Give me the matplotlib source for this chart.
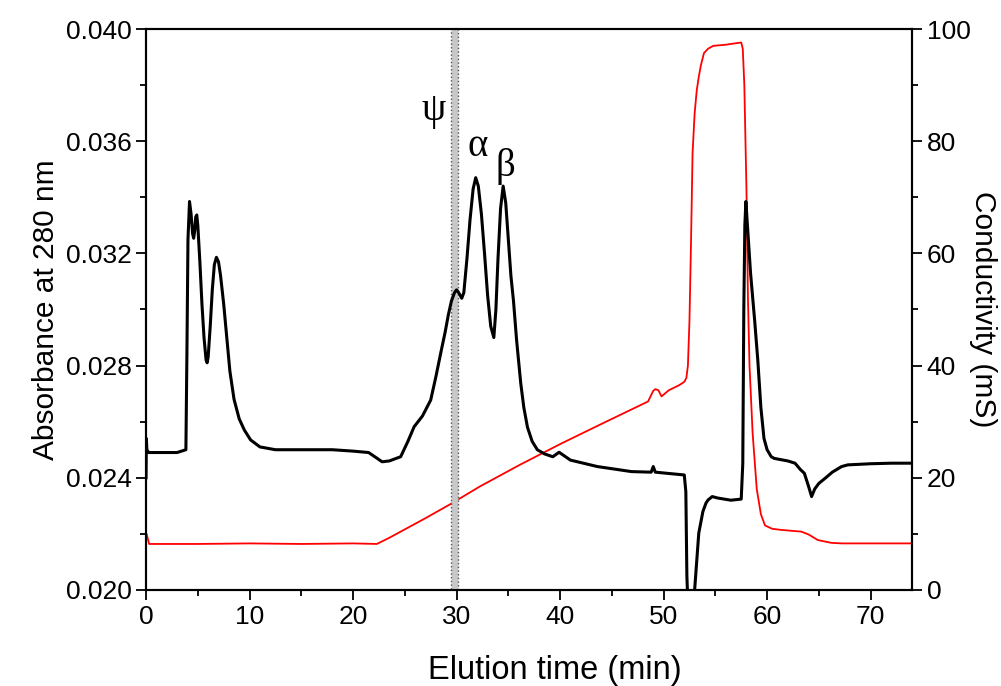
import numpy as np
import matplotlib
matplotlib.use("Agg")
import matplotlib.pyplot as plt
from matplotlib.ticker import MultipleLocator

plt.rcParams['font.family'] = ['Liberation Sans', 'DejaVu Sans']

# absorbance at 280 nm (left axis)
abs_time = [0.0, 0.03, 0.08, 0.25, 1.5, 3.0, 3.85, 3.95, 4.05, 4.2, 4.35, 4.5, 4.6, 4.7, 4.8, 4.9,
            5.0, 5.2, 5.4, 5.6, 5.8, 5.9, 6.0, 6.2, 6.4, 6.6, 6.8, 7.0, 7.2, 7.5, 7.8, 8.1,
            8.5, 9.0, 9.5, 10.1, 11.0, 12.5, 15.0, 18.0, 20.0, 21.5, 22.3, 22.8, 23.5, 24.6,
            25.3, 25.9, 26.7, 27.5, 28.0, 28.5, 28.9, 29.2, 29.5, 29.8, 30.0, 30.2, 30.5, 30.7,
            31.0, 31.3, 31.6, 31.85, 32.1, 32.4, 32.7, 33.0, 33.3, 33.6, 33.8, 34.0, 34.25,
            34.5, 34.75, 35.0, 35.25, 35.5, 35.8, 36.2, 36.5, 36.85, 37.3, 37.8, 38.5, 39.3,
            39.9, 41.0, 43.6, 46.9, 48.8, 49.0, 49.2, 52.0, 52.15, 52.25, 52.35, 52.9, 53.1,
            53.4, 53.8, 54.1, 54.3, 54.7, 55.2, 56.5, 57.5, 57.65, 57.75, 57.85, 57.95, 58.1,
            58.4, 58.8, 59.1, 59.4, 59.7, 60.0, 60.4, 60.7, 62.0, 62.7, 63.2, 63.6, 64.0, 64.3,
            64.6, 65.0, 65.6, 66.3, 67.2, 67.8, 70.0, 72.0, 74.0]
absorbance = [0.0240, 0.0254, 0.0250, 0.0249, 0.0249, 0.0249, 0.0250, 0.0285, 0.0325, 0.03385,
              0.0334, 0.0327, 0.03254, 0.0328, 0.0333, 0.03337, 0.0330, 0.0317, 0.0302, 0.0290,
              0.0282, 0.0281, 0.0283, 0.0294, 0.0307, 0.0316, 0.03186, 0.0317, 0.0312, 0.0302,
              0.0290, 0.0278, 0.0268, 0.0261, 0.0257, 0.02535, 0.0251, 0.0250, 0.0250, 0.0250,
              0.02495, 0.0249, 0.0247, 0.02457, 0.0246, 0.02475, 0.0253, 0.02582, 0.0262, 0.02677,
              0.0276, 0.0285, 0.0292, 0.0298, 0.0303, 0.0306, 0.0307, 0.0306, 0.0304, 0.0306,
              0.0318, 0.0332, 0.0343, 0.0347, 0.0344, 0.0334, 0.0320, 0.0305, 0.0294, 0.0290,
              0.0300, 0.0318, 0.0336, 0.0344, 0.0338, 0.0325, 0.0312, 0.0303, 0.0289, 0.02737,
              0.0265, 0.0258, 0.0253, 0.0250, 0.02485, 0.02475, 0.02491, 0.02463, 0.0244, 0.02422,
              0.0242, 0.0244, 0.0242, 0.0241, 0.0235, 0.0205, 0.0195, 0.0195, 0.0205, 0.02203,
              0.0228, 0.0231, 0.02321, 0.02333, 0.02328, 0.0232, 0.02324, 0.0245, 0.0300, 0.0330,
              0.03385, 0.0330, 0.0313, 0.0296, 0.0282, 0.0265, 0.0254, 0.0250, 0.02475, 0.02469,
              0.0246, 0.02452, 0.0243, 0.02416, 0.0237, 0.02333, 0.0236, 0.0238, 0.02398, 0.0242,
              0.0244, 0.02446, 0.0245, 0.02452, 0.02452]

# conductivity (right axis)
cond_time = [0.0, 0.05, 0.3, 5.0, 10.0, 15.0, 20.0, 22.3, 23.5, 25.0, 27.0, 29.4, 32.3, 36.0, 40.0,
             44.0, 48.5, 49.0, 49.2, 49.5, 49.8, 50.5, 51.5, 52.0, 52.2, 52.35, 52.5, 52.65, 52.8,
             53.0, 53.2, 53.4, 53.6, 53.9, 54.3, 54.8, 56.0, 57.5, 57.65, 57.8, 58.0, 58.15,
             58.3, 58.6, 59.0, 59.4, 59.8, 60.5, 61.4, 63.3, 64.0, 64.9, 66.2, 67.2, 70.0, 74.0]
conductivity = [10.0, 10.0, 8.2, 8.2, 8.3, 8.2, 8.3, 8.2, 9.3, 10.8, 12.8, 15.3, 18.5, 22.2, 26.0,
                29.6, 33.6, 35.5, 35.8, 35.6, 34.5, 35.6, 36.5, 37.1, 37.8, 40.0, 48.0, 62.0, 77.9,
                85.0, 89.0, 91.5, 93.5, 95.7, 96.5, 97.0, 97.2, 97.6, 96.5, 90.0, 71.9, 52.0,
                40.0, 28.0, 18.0, 13.5, 11.5, 10.9, 10.7, 10.4, 9.9, 8.9, 8.4, 8.3, 8.3, 8.3]

fig = plt.figure(figsize=(10.01, 6.86), dpi=100)
ax = fig.add_axes([0.1459, 0.140, 0.7652, 0.8177])
ax2 = ax.twinx()

ax.plot(abs_time, absorbance, color="black", lw=2.2, zorder=3)
ax2.plot(cond_time, conductivity, color="red", lw=1.3)

# fraction marker ψ
ax.axvspan(29.45, 30.1, facecolor="#c8c8c8", edgecolor="#555555", ls=":", lw=1.0, zorder=1)

ax.set_zorder(ax2.get_zorder() + 1)
ax.patch.set_visible(False)

ax.set_xlim(0, 74)
ax.set_ylim(0.020, 0.040)
ax2.set_ylim(0, 100)

ax.xaxis.set_major_locator(MultipleLocator(10))
ax.xaxis.set_minor_locator(MultipleLocator(5))
ax.yaxis.set_major_locator(MultipleLocator(0.004))
ax.yaxis.set_minor_locator(MultipleLocator(0.002))
ax2.yaxis.set_major_locator(MultipleLocator(20))
ax2.yaxis.set_minor_locator(MultipleLocator(10))
ax.yaxis.set_major_formatter(plt.FuncFormatter(lambda v, p: f"{v:.3f}"))

for a in (ax, ax2):
    a.tick_params(which="major", direction="out", length=7, width=1.3, labelsize=19)
    a.tick_params(which="minor", direction="out", length=4, width=1.3)
    for s in a.spines.values():
        s.set_linewidth(1.5)

ax.set_xlabel("Elution time (min)", fontsize=23.5, labelpad=19)
ax.xaxis.label.set_x(0.534)
ax.set_ylabel("Absorbance at 280 nm", fontsize=21.5, labelpad=4)
ax2.set_ylabel("Conductivity (mS)", fontsize=21.5, rotation=270, labelpad=19)

greek = dict(family=["Liberation Serif", "DejaVu Serif"], fontsize=28, ha="center", va="center")
ax.text(27.8, 0.0371, "ψ", **greek)
ax.text(32.0, 0.0358, "α", **greek)
ax.text(34.7, 0.0351, "β", **greek)

fig.savefig("out.png", dpi=100)
